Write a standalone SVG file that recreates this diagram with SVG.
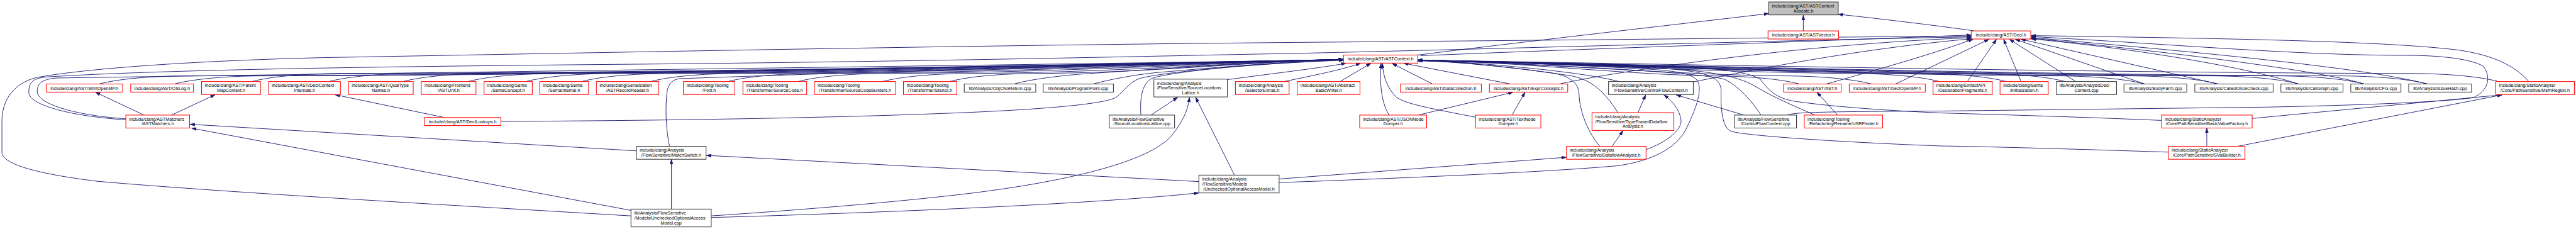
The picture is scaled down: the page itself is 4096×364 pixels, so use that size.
<svg xmlns="http://www.w3.org/2000/svg" width="4096" height="364" viewBox="0 0 4096 364">
<defs>
<marker id="a" markerUnits="userSpaceOnUse" markerWidth="15" markerHeight="10" refX="15" refY="5" orient="auto" viewBox="0 0 15 10"><path d="M0,0 L15,5 L0,10 z" fill="#191970" stroke="#191970" stroke-width="1"/></marker>
</defs>
<style>
.e path{fill:none;stroke:#191970;stroke-width:1.8;marker-end:url(#a)}
rect{stroke-width:2}
.r rect{fill:#fff;stroke:#ff0000}
.k rect{fill:#fff;stroke:#333}
.g rect{fill:#bfbfbf;stroke:#333}
text{font-family:"Liberation Sans",Arial,Helvetica,sans-serif;font-size:14px;fill:#000}
.c{text-anchor:middle}
</style>
<rect width="4096" height="364" fill="#fff"/>
<g transform="scale(0.51451)">
<g id="edges" class="e">
<path d="M5573,95.5 L5573,47"/>
<path d="M4381,170 C4700,130 5100,85 5466,42"/>
<path d="M6102,95.5 C5980,78 5800,57 5681,44"/>
<path d="M4390,172 C4800,155 5600,128 6092,108"/>
<path d="M1950,667 C1500,640 700,595 300,560 C100,535 6,505 6,470 L6,375 C6,305 45,258 110,240 C300,205 700,185 1000,178 C2000,160 3000,140 4000,131 C5000,123 5700,114 6092,111"/>
<path d="M389,370 C250,362 89,330 89,285 C89,255 100,243 140,238 C500,215 1200,205 2000,198 C3000,188 3600,172 4000,165 C4600,152 5600,122 6092,114"/>
<path d="M389,367 C250,358 115,325 115,282 C115,257 130,245 175,241 C1000,228 3600,195 4152,184"/>
<path d="M445,355.5 L295,285"/>
<path d="M530,355.5 L665,292.5"/>
<path d="M1967,466 L587,384"/>
<path d="M1950,650 L592,396"/>
<path d="M2075,646 L2075,492.5"/>
<path d="M2198,667 C2600,640 2850,615 3000,597 C3300,560 3550,500 3620,420 C3660,370 3672,335 3676,300.5"/>
<path d="M2198,672 C2800,655 3400,628 3705,596"/>
<path d="M3705,561 L2183,480"/>
<path d="M3815,541 L3695,300.5"/>
<path d="M3953,553 L4841,486"/>
<path d="M3953,564 C4400,548 4800,530 5000,512 C5100,498 5180,460 5210,400 C5245,330 5262,275 5245,248 C5225,226 5180,220 5100,214 C4850,200 4600,190 4381,188"/>
<path d="M2069,452 C2058,400 2055,330 2062,280 C2068,255 2080,246 2100,243 C2600,225 3600,195 4152,185"/>
<path d="M1548,375 C2200,372 2700,360 3000,347 C3250,336 3420,320 3450,300 C3480,275 3490,255 3520,243 C3570,228 3800,200 4152,186"/>
<path d="M3526,355.5 C3522,300 3530,258 3560,242 C3620,222 3850,198 4152,185"/>
<path d="M3557,355.5 L3640,300.5"/>
<path d="M1373,363 L1035,292.5"/>
<path d="M306,259.5 C366,243.5 466,235.5 566,234.5 C2000,232.5 3900,187 4152,184"/>
<path d="M539,259.5 C599,243.5 699,235.5 799,234.5 C2140,232.5 3900,187 4152,184"/>
<path d="M778,252 C838,236 938,228 1038,227 C2284,225 3900,187 4152,184"/>
<path d="M1016,252 C1076,236 1176,228 1276,227 C2426,225 3900,187 4152,184"/>
<path d="M1245,252 C1305,236 1405,228 1505,227 C2564,225 3900,187 4152,184"/>
<path d="M1446,252 C1506,236 1606,228 1706,227 C2684,225 3900,187 4152,184"/>
<path d="M1625,252 C1685,236 1785,228 1885,227 C2792,225 3900,187 4152,184"/>
<path d="M1797,252 C1857,236 1957,228 2057,227 C2895,225 3900,187 4152,184"/>
<path d="M2010,252 C2070,236 2170,228 2270,227 C3023,225 3900,187 4152,184"/>
<path d="M2249,252 C2309,236 2409,228 2509,227 C3166,225 3900,187 4152,184"/>
<path d="M2466,252 C2526,236 2626,228 2726,227 C3296,225 3900,187 4152,184"/>
<path d="M2727,252 C2787,236 2887,228 2987,227 C3453,225 3900,187 4152,184"/>
<path d="M2934,252 C2994,236 3094,228 3194,227 C3577,225 3900,187 4152,184"/>
<path d="M3134,259.5 C3180,246 3280,232 3383,226 C3600,212 3900,190 4152,184"/>
<path d="M3379,259.5 C3430,245 3520,228 3600,222 C3800,205 4000,188 4152,184"/>
<path d="M3793,246 C3950,225 4080,210 4160,195.5"/>
<path d="M3968,252 C4050,235 4150,215 4205,195.5"/>
<path d="M4141,252 L4237,195.5"/>
<path d="M4293,355.5 C4270,320 4263,260 4268,196"/>
<path d="M4560,362 C4420,335 4340,320 4315,300 C4288,272 4275,240 4272,196"/>
<path d="M4427,259.5 L4302,196"/>
<path d="M4668,259.5 L4338,195.5"/>
<path d="M4383,355.5 L4676,285"/>
<path d="M4673,355.5 L4713,285"/>
<path d="M4820,259.5 C4900,240 5200,190 5600,150 C5850,127 6000,120 6092,117"/>
<path d="M5233,253 C5450,210 5750,150 6092,120"/>
<path d="M5004,252 C4950,238 4850,222 4700,208 C4600,198 4500,190 4381,187"/>
<path d="M5000,348 C4970,300 4930,250 4860,235 C4700,210 4500,190 4381,187"/>
<path d="M4944,452 C4900,400 4880,330 4880,290 C4878,255 4850,235 4800,226 C4650,205 4500,190 4381,187"/>
<path d="M4982,452 L5016,403.5"/>
<path d="M5087,462 C5150,440 5200,400 5195,370 C5190,335 5165,310 5142,293"/>
<path d="M5062,348 L5086,293"/>
<path d="M5389,355.5 L5180,293"/>
<path d="M5442,355.5 C5420,320 5380,270 5330,245 C5250,222 4700,195 4381,187"/>
<path d="M5609,355.5 C5550,330 5480,300 5430,270 C5380,238 5300,224 5200,215 C4900,200 4600,190 4381,187"/>
<path d="M5679,355.5 L5615,285"/>
<path d="M6680,372 C6400,360 6100,352 6000,349 C5800,340 5650,328 5540,312 C5480,300 5460,270 5440,245 C5400,220 5300,210 5150,205 C4900,196 4600,189 4381,187"/>
<path d="M6701,470 C6400,460 6100,452 6000,451 C5700,440 5400,420 5351,406 C5320,395 5318,330 5319,280 C5318,240 5280,222 5150,212 C4900,198 4600,189 4381,187"/>
<path d="M6960,366 L7732,293"/>
<path d="M6915,452 L7733,293"/>
<path d="M6820,452 L6820,396"/>
<path d="M5644,259.5 C5800,215 5950,175 6098,121"/>
<path d="M5858,259.5 L6147,121.5"/>
<path d="M6080,252 L6170,121.5"/>
<path d="M6246,252 L6192,121.5"/>
<path d="M6415,252 L6210,121.5"/>
<path d="M6628,259.5 L6228,121.5"/>
<path d="M6855,259.5 L6245,121"/>
<path d="M7104,259.5 C7000,225 6700,160 6277,120"/>
<path d="M7306,259.5 C7200,225 6800,170 6277,118"/>
<path d="M7502,259.5 C7350,220 7000,178 6277,116"/>
<path d="M7815,252 C7770,200 7700,170 7600,155 C7400,130 7000,120 6277,110"/>
<path d="M5523,355.5 C5550,347 5600,345 6000,343 L7000,331 C7300,325 7550,315 7643,302 C7690,280 7700,240 7675,205 C7640,183 7550,172 7450,171 C7100,172 6700,135 6277,113"/>
<path d="M5561,259.5 C5501,243.5 5401,235.5 5301,234.5 C5041,232.5 4650,188 4381,186"/>
<path d="M5784,259.5 C5724,243.5 5624,235.5 5524,234.5 C5174,232.5 4650,188 4381,186"/>
<path d="M5994,252 C5934,236 5834,228 5734,227 C5300,225 4650,188 4381,186"/>
<path d="M6201,252 C6141,236 6041,228 5941,227 C5425,225 4650,188 4381,186"/>
<path d="M6383,252 C6323,236 6223,228 6123,227 C5534,225 4650,188 4381,186"/>
<path d="M6628,259.5 C6568,243.5 6468,235.5 6368,234.5 C5681,232.5 4650,188 4381,186"/>
<path d="M6855,259.5 C6795,243.5 6695,235.5 6595,234.5 C5817,232.5 4650,188 4381,186"/>
<path d="M7104,259.5 C7044,243.5 6944,235.5 6844,234.5 C5966,232.5 4650,188 4381,186"/>
<path d="M7306,259.5 C7246,243.5 7146,235.5 7046,234.5 C6088,232.5 4650,188 4381,186"/>
<path d="M7502,259.5 C7442,243.5 7342,235.5 7242,234.5 C6205,232.5 4650,188 4381,186"/>
<path d="M7722,252 C7662,236 7562,228 7462,227 C6337,225 4650,188 4381,186"/>
</g>
<g id="n0" class="g"><rect x="5466" y="6" width="215" height="40"/><text x="5476" y="23">include/clang/AST/ASTContext</text><text x="5573.5" y="38" class="c">Allocate.h</text></g>
<g id="n1" class="r"><rect x="5464" y="95.5" width="218" height="25"/><text x="5573" y="113" class="c">include/clang/AST/ASTVector.h</text></g>
<g id="n2" class="r"><rect x="6092" y="95.5" width="184" height="25"/><text x="6184" y="113" class="c">include/clang/AST/Decl.h</text></g>
<g id="n3" class="r"><rect x="4152" y="170" width="229" height="25"/><text x="4266.5" y="187.5" class="c">include/clang/AST/ASTContext.h</text></g>
<g id="n4" class="r"><rect x="143" y="259.5" width="236" height="25"/><text x="261" y="277" class="c">include/clang/AST/StmtOpenMP.h</text></g>
<g id="n5" class="r"><rect x="404" y="259.5" width="194" height="25"/><text x="501" y="277" class="c">include/clang/AST/OSLog.h</text></g>
<g id="n6" class="r"><rect x="623" y="252" width="182" height="40"/><text x="633" y="269">include/clang/AST/Parent</text><text x="714" y="284" class="c">MapContext.h</text></g>
<g id="n7" class="r"><rect x="830" y="252" width="222" height="40"/><text x="840" y="269">include/clang/AST/DeclContext</text><text x="941" y="284" class="c">Internals.h</text></g>
<g id="n8" class="r"><rect x="1077" y="252" width="200" height="40"/><text x="1087" y="269">include/clang/AST/QualType</text><text x="1177" y="284" class="c">Names.h</text></g>
<g id="n9" class="r"><rect x="1302" y="252" width="169" height="40"/><text x="1312" y="269">include/clang/Frontend</text><text x="1386.5" y="284" class="c">/ASTUnit.h</text></g>
<g id="n10" class="r"><rect x="1496" y="252" width="149" height="40"/><text x="1506" y="269">include/clang/Sema</text><text x="1570.5" y="284" class="c">/SemaConcept.h</text></g>
<g id="n11" class="r"><rect x="1668" y="252" width="151" height="40"/><text x="1678" y="269">include/clang/Sema</text><text x="1743.5" y="284" class="c">/SemaInternal.h</text></g>
<g id="n12" class="r"><rect x="1843" y="252" width="193" height="40"/><text x="1853" y="269">include/clang/Serialization</text><text x="1939.5" y="284" class="c">/ASTRecordReader.h</text></g>
<g id="n13" class="r"><rect x="2112" y="252" width="159" height="40"/><text x="2122" y="269">include/clang/Tooling</text><text x="2191.5" y="284" class="c">/FixIt.h</text></g>
<g id="n14" class="r"><rect x="2296" y="252" width="197" height="40"/><text x="2306" y="269">include/clang/Tooling</text><text x="2394.5" y="284" class="c">/Transformer/SourceCode.h</text></g>
<g id="n15" class="r"><rect x="2517" y="252" width="251" height="40"/><text x="2527" y="269">include/clang/Tooling</text><text x="2642.5" y="284" class="c">/Transformer/SourceCodeBuilders.h</text></g>
<g id="n16" class="r"><rect x="2792" y="252" width="165" height="40"/><text x="2802" y="269">include/clang/Tooling</text><text x="2874.5" y="284" class="c">/Transformer/Stencil.h</text></g>
<g id="n17" class="k"><rect x="2980" y="259.5" width="221" height="25"/><text x="3090.5" y="277" class="c">lib/Analysis/ObjCNoReturn.cpp</text></g>
<g id="n18" class="k"><rect x="3224" y="259.5" width="217" height="25"/><text x="3332.5" y="277" class="c">lib/Analysis/ProgramPoint.cpp</text></g>
<g id="n19" class="k"><rect x="3566" y="244.5" width="227" height="55"/><text x="3576" y="261.5">include/clang/Analysis</text><text x="3576" y="276.5">/FlowSensitive/SourceLocations</text><text x="3679.5" y="291.5" class="c">Lattice.h</text></g>
<g id="n20" class="r"><rect x="3818" y="252" width="166" height="40"/><text x="3828" y="269">include/clang/Analysis</text><text x="3901" y="284" class="c">/SelectorExtras.h</text></g>
<g id="n21" class="r"><rect x="4009" y="252" width="194" height="40"/><text x="4019" y="269">include/clang/AST/Abstract</text><text x="4106" y="284" class="c">BasicWriter.h</text></g>
<g id="n22" class="r"><rect x="4328" y="259.5" width="250" height="25"/><text x="4453" y="277" class="c">include/clang/AST/DataCollection.h</text></g>
<g id="n23" class="r"><rect x="4603" y="259.5" width="242" height="25"/><text x="4724" y="277" class="c">include/clang/AST/ExprConcepts.h</text></g>
<g id="n24" class="k"><rect x="4971" y="252" width="262" height="40"/><text x="4981" y="269">include/clang/Analysis</text><text x="5102" y="284" class="c">/FlowSensitive/ControlFlowContext.h</text></g>
<g id="n25" class="r"><rect x="5512" y="259.5" width="178" height="25"/><text x="5601" y="277" class="c">include/clang/AST/AST.h</text></g>
<g id="n26" class="r"><rect x="5715" y="259.5" width="235" height="25"/><text x="5832.5" y="277" class="c">include/clang/AST/DeclOpenMP.h</text></g>
<g id="n27" class="r"><rect x="5974" y="252" width="183" height="40"/><text x="5984" y="269">include/clang/ExtractAPI</text><text x="6065.5" y="284" class="c">/DeclarationFragments.h</text></g>
<g id="n28" class="r"><rect x="6181" y="252" width="149" height="40"/><text x="6191" y="269">include/clang/Sema</text><text x="6255.5" y="284" class="c">/Initialization.h</text></g>
<g id="n29" class="k"><rect x="6355" y="252" width="186" height="40"/><text x="6365" y="269">lib/Analysis/AnalysisDecl</text><text x="6448" y="284" class="c">Context.cpp</text></g>
<g id="n30" class="k"><rect x="6564" y="259.5" width="194" height="25"/><text x="6661" y="277" class="c">lib/Analysis/BodyFarm.cpp</text></g>
<g id="n31" class="k"><rect x="6783" y="259.5" width="242" height="25"/><text x="6904" y="277" class="c">lib/Analysis/CalledOnceCheck.cpp</text></g>
<g id="n32" class="k"><rect x="7049" y="259.5" width="192" height="25"/><text x="7145" y="277" class="c">lib/Analysis/CallGraph.cpp</text></g>
<g id="n33" class="k"><rect x="7265" y="259.5" width="155" height="25"/><text x="7342.5" y="277" class="c">lib/Analysis/CFG.cpp</text></g>
<g id="n34" class="k"><rect x="7444" y="259.5" width="194" height="25"/><text x="7541" y="277" class="c">lib/Analysis/IssueHash.cpp</text></g>
<g id="n35" class="r"><rect x="7713" y="252" width="243" height="40"/><text x="7723" y="269">include/clang/StaticAnalyzer</text><text x="7834.5" y="284" class="c">/Core/PathSensitive/MemRegion.h</text></g>
<g id="n36" class="r"><rect x="389" y="355.5" width="197" height="40"/><text x="399" y="372.5">include/clang/ASTMatchers</text><text x="487.5" y="387.5" class="c">/ASTMatchers.h</text></g>
<g id="n37" class="r"><rect x="1312" y="363" width="236" height="25"/><text x="1430" y="380.5" class="c">include/clang/AST/DeclLookups.h</text></g>
<g id="n38" class="k"><rect x="3428" y="355.5" width="202" height="40"/><text x="3438" y="372.5">lib/Analysis/FlowSensitive</text><text x="3529" y="387.5" class="c">/SourceLocationsLattice.cpp</text></g>
<g id="n39" class="r"><rect x="4202" y="355.5" width="207" height="40"/><text x="4212" y="372.5">include/clang/AST/JSONNode</text><text x="4305.5" y="387.5" class="c">Dumper.h</text></g>
<g id="n40" class="r"><rect x="4560" y="355.5" width="202" height="40"/><text x="4570" y="372.5">include/clang/AST/TextNode</text><text x="4661" y="387.5" class="c">Dumper.h</text></g>
<g id="n41" class="r"><rect x="4920" y="348" width="253" height="55"/><text x="4930" y="365">include/clang/Analysis</text><text x="4930" y="380">/FlowSensitive/TypeErasedDataflow</text><text x="5046.5" y="395" class="c">Analysis.h</text></g>
<g id="n42" class="k"><rect x="5360" y="355.5" width="192" height="40"/><text x="5370" y="372.5">lib/Analysis/FlowSensitive</text><text x="5456" y="387.5" class="c">/ControlFlowContext.cpp</text></g>
<g id="n43" class="r"><rect x="5576" y="355.5" width="242" height="40"/><text x="5586" y="372.5">include/clang/Tooling</text><text x="5697" y="387.5" class="c">/Refactoring/Rename/USRFinder.h</text></g>
<g id="n44" class="r"><rect x="6680" y="355.5" width="280" height="40"/><text x="6690" y="372.5">include/clang/StaticAnalyzer</text><text x="6820" y="387.5" class="c">/Core/PathSensitive/BasicValueFactory.h</text></g>
<g id="n45" class="k"><rect x="1967" y="452" width="215" height="40"/><text x="1977" y="469">include/clang/Analysis</text><text x="2074.5" y="484" class="c">/FlowSensitive/MatchSwitch.h</text></g>
<g id="n46" class="r"><rect x="4841" y="452" width="246" height="40"/><text x="4851" y="469">include/clang/Analysis</text><text x="4964" y="484" class="c">/FlowSensitive/DataflowAnalysis.h</text></g>
<g id="n47" class="r"><rect x="6701" y="452" width="237" height="40"/><text x="6711" y="469">include/clang/StaticAnalyzer</text><text x="6819.5" y="484" class="c">/Core/PathSensitive/SValBuilder.h</text></g>
<g id="n48" class="k"><rect x="3705" y="541" width="248" height="55"/><text x="3715" y="558">include/clang/Analysis</text><text x="3715" y="573">/FlowSensitive/Models</text><text x="3829" y="588" class="c">/UncheckedOptionalAccessModel.h</text></g>
<g id="n49" class="k"><rect x="1950" y="646" width="248" height="55"/><text x="1960" y="663">lib/Analysis/FlowSensitive</text><text x="1960" y="678">/Models/UncheckedOptionalAccess</text><text x="2074" y="693" class="c">Model.cpp</text></g>
</g>
</svg>
